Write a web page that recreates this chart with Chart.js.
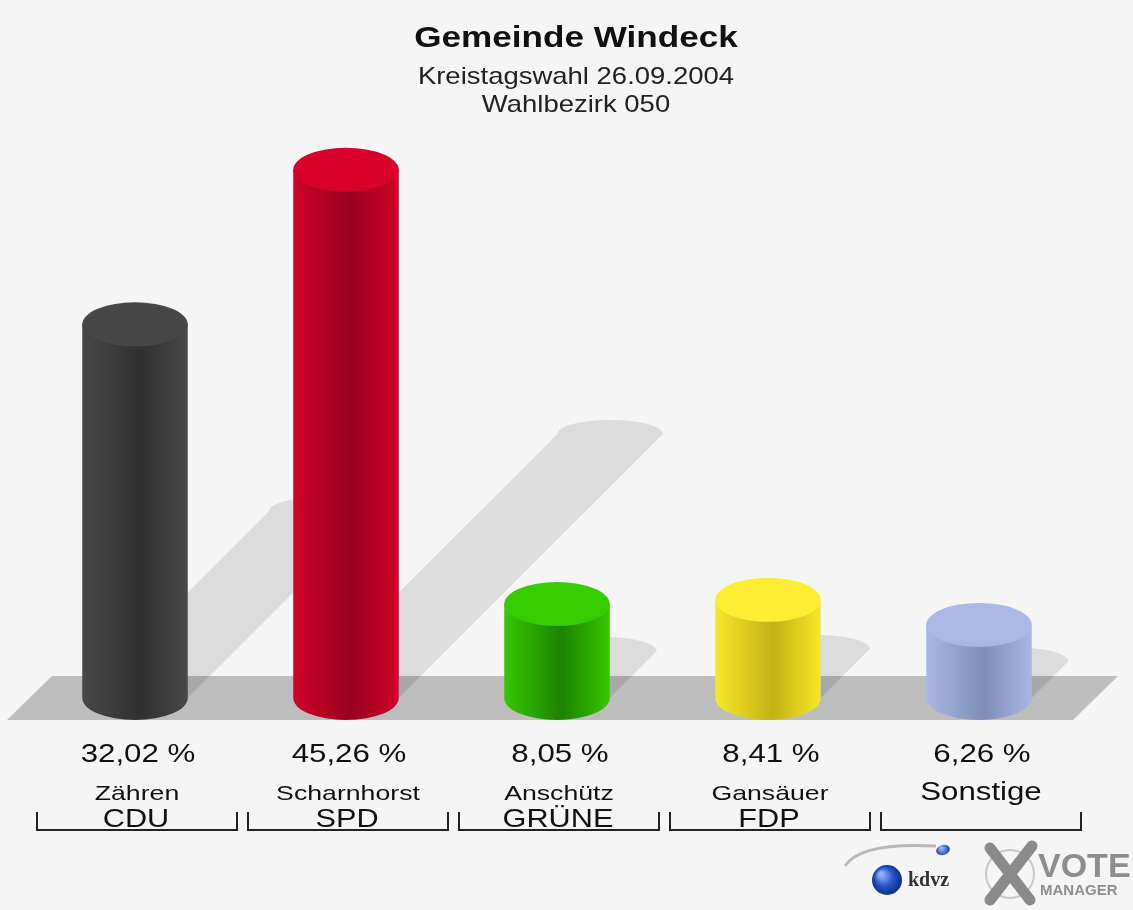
<!DOCTYPE html>
<html>
<head>
<meta charset="utf-8">
<script src="https://cdn.jsdelivr.net/npm/chart.js@4"></script>
<style>
  body { margin: 0; background: #f5f5f5; }
  canvas { display: block; }
</style>
</head>
<body>
<canvas id="chart" width="1133" height="910"></canvas>
<script>
const parties = ['CDU', 'SPD', 'GRÜNE', 'FDP', 'Sonstige']
const candidates = ['Zähren', 'Scharnhorst', 'Anschütz', 'Gansäuer', '']
const shares = [32.02, 45.26, 8.05, 8.41, 6.26]

const sideColors = ['#484848', '#d0002a', '#36c800', '#f6e82a', '#a8b8e2']
const darkColors = ['#303030', '#98001c', '#1c8200', '#c2b214', '#7e8eb6']
const topColors = ['#474747', '#d8002a', '#35cc00', '#fdee33', '#aab9e4']

const title = 'Gemeinde Windeck'
const subtitles = ['Kreistagswahl 26.09.2004', 'Wahlbezirk 050']

const FONT = '"Liberation Sans", Arial, sans-serif'
const CAP_RY = 22

function stretchText(ctx, text, x, y, font, sx, color) {
    ctx.save()
    ctx.font = font
    ctx.fillStyle = color || '#111'
    ctx.textAlign = 'center'
    ctx.textBaseline = 'alphabetic'
    ctx.translate(x, y)
    ctx.scale(sx, 1)
    ctx.fillText(text, 0, 0)
    ctx.restore()
}

function bodyGradient(ctx, x0, x1, i) {
    let g = ctx.createLinearGradient(x0, 0, x1, 0)
    g.addColorStop(0, sideColors[i])
    g.addColorStop(0.55, darkColors[i])
    g.addColorStop(1, sideColors[i])
    return g
}

function halfWidth(chart) {
    let xs = chart.scales.x
    return xs.width / parties.length * 0.5 / 2
}

// floor, shadows, cylinder caps
const cylinderPlugin = {
    id: 'cylinders',
    beforeDatasetsDraw(chart) {
        let ctx = chart.ctx
        let area = chart.chartArea
        let base = chart.scales.y.getPixelForValue(0)
        let meta = chart.getDatasetMeta(0)

        ctx.save()
        ctx.fillStyle = '#bdbdbd'
        ctx.beginPath()
        ctx.moveTo(area.left - 22.5, base + 22)
        ctx.lineTo(area.left + 22.5, base - 22)
        ctx.lineTo(area.right + 33.5, base - 22)
        ctx.lineTo(area.right - 11.5, base + 22)
        ctx.closePath()
        ctx.fill()

        ctx.fillStyle = 'rgba(0,0,0,0.1)'
        meta.data.forEach(el => {
            let hw = el.width / 2
            let h = base - el.y
            let d = h * 0.5
            ctx.beginPath()
            ctx.moveTo(el.x - hw, base)
            ctx.lineTo(el.x - hw + d, base - d)
            ctx.ellipse(el.x + d, base - d, hw, 14, 0, Math.PI, 2 * Math.PI)
            ctx.lineTo(el.x + hw, base)
            ctx.closePath()
            ctx.fill()
        })
        ctx.restore()
    },
    afterDatasetsDraw(chart) {
        let ctx = chart.ctx
        let base = chart.scales.y.getPixelForValue(0)
        let meta = chart.getDatasetMeta(0)
        ctx.save()
        meta.data.forEach((el, i) => {
            let hw = el.width / 2
            ctx.fillStyle = bodyGradient(ctx, el.x - hw, el.x + hw, i)
            ctx.beginPath()
            ctx.ellipse(el.x, base, hw, CAP_RY, 0, 0, Math.PI)
            ctx.fill()

            ctx.fillStyle = topColors[i]
            ctx.beginPath()
            ctx.ellipse(el.x, el.y, hw, CAP_RY, 0, 0, 2 * Math.PI)
            ctx.fill()
        })
        ctx.restore()
    }
}

// title, value labels, brackets and logo
const labelPlugin = {
    id: 'labels',
    afterDraw(chart) {
        let ctx = chart.ctx
        let xs = chart.scales.x

        stretchText(ctx, title, 576, 47, 'bold 30px ' + FONT, 1.17, '#111')
        stretchText(ctx, subtitles[0], 576, 84, '24px ' + FONT, 1.145, '#222')
        stretchText(ctx, subtitles[1], 576, 112, '24px ' + FONT, 1.145, '#222')

        parties.forEach((p, i) => {
            let xc = xs.getPixelForValue(i)
            let pct = shares[i].toFixed(2).replace('.', ',') + ' %'
            stretchText(ctx, pct, xc + 3, 762, '25px ' + FONT, 1.25, '#111')
            if (candidates[i]) {
                stretchText(ctx, candidates[i], xc + 2, 800, '21px ' + FONT, 1.27, '#111')
                stretchText(ctx, p, xc + 1, 827, '26px ' + FONT, 1.18, '#111')
            } else {
                stretchText(ctx, p, xc + 2, 800, '26px ' + FONT, 1.2, '#111')
            }

            ctx.save()
            ctx.strokeStyle = '#222'
            ctx.lineWidth = 2
            ctx.beginPath()
            ctx.moveTo(xc - 98, 812)
            ctx.lineTo(xc - 98, 830)
            ctx.lineTo(xc + 102, 830)
            ctx.lineTo(xc + 102, 812)
            ctx.stroke()
            ctx.restore()
        })

        drawLogo(ctx)
    }
}

function drawLogo(ctx) {
    ctx.save()
    // swoosh
    ctx.strokeStyle = '#b8b8b8'
    ctx.lineWidth = 3
    ctx.beginPath()
    ctx.moveTo(845, 866)
    ctx.quadraticCurveTo(860, 842, 936, 846)
    ctx.stroke()
    // spheres
    let g = ctx.createRadialGradient(881, 874, 2, 887, 880, 16)
    g.addColorStop(0, '#8fb0ff')
    g.addColorStop(0.5, '#2a55c8')
    g.addColorStop(1, '#0a2a80')
    ctx.fillStyle = g
    ctx.beginPath()
    ctx.arc(887, 880, 15, 0, 2 * Math.PI)
    ctx.fill()
    let g2 = ctx.createRadialGradient(941, 848, 1, 943, 850, 7)
    g2.addColorStop(0, '#8fb0ff')
    g2.addColorStop(1, '#1a3c9c')
    ctx.fillStyle = g2
    ctx.beginPath()
    ctx.ellipse(943, 850, 7, 5, -0.3, 0, 2 * Math.PI)
    ctx.fill()
    ctx.fillStyle = '#333'
    ctx.font = 'bold 20px "Liberation Serif", serif'
    ctx.textAlign = 'left'
    ctx.fillText('kdvz', 908, 886)
    // X mark
    ctx.strokeStyle = '#c8c8c8'
    ctx.lineWidth = 2
    ctx.beginPath()
    ctx.arc(1010, 874, 24, 0, 2 * Math.PI)
    ctx.stroke()
    ctx.strokeStyle = '#8a8a8a'
    ctx.lineWidth = 11
    ctx.lineCap = 'round'
    ctx.beginPath()
    ctx.moveTo(990, 848)
    ctx.lineTo(1030, 900)
    ctx.moveTo(1032, 846)
    ctx.lineTo(990, 900)
    ctx.stroke()
    ctx.fillStyle = '#8e8e8e'
    ctx.font = 'bold 34px ' + FONT
    ctx.fillText('VOTE', 1038, 877)
    ctx.font = 'bold 15px ' + FONT
    ctx.fillText('MANAGER', 1040, 895)
    ctx.restore()
}

let config = {
    type: 'bar',
    data: {
        labels: parties,
        datasets: [{
            data: shares,
            borderWidth: 0,
            barPercentage: 0.5,
            categoryPercentage: 1,
            backgroundColor: function (context) {
                let chart = context.chart
                let i = context.dataIndex
                if (i === undefined) return sideColors[0]
                if (!chart.chartArea || !chart.scales.x) return sideColors[i]
                let hw = halfWidth(chart)
                let xc = chart.scales.x.getPixelForValue(i)
                return bodyGradient(chart.ctx, xc - hw, xc + hw, i)
            }
        }]
    },
    options: {
        responsive: false,
        animation: false,
        devicePixelRatio: 1,
        layout: {
            padding: { top: 114.5, bottom: 212, left: 29.5, right: 48.5 }
        },
        scales: {
            x: { display: false },
            y: { display: false, min: 0, max: 50 }
        },
        plugins: {
            legend: { display: false },
            tooltip: { enabled: false }
        }
    },
    plugins: [cylinderPlugin, labelPlugin]
}

new Chart(document.getElementById('chart'), config)
</script>
</body>
</html>
